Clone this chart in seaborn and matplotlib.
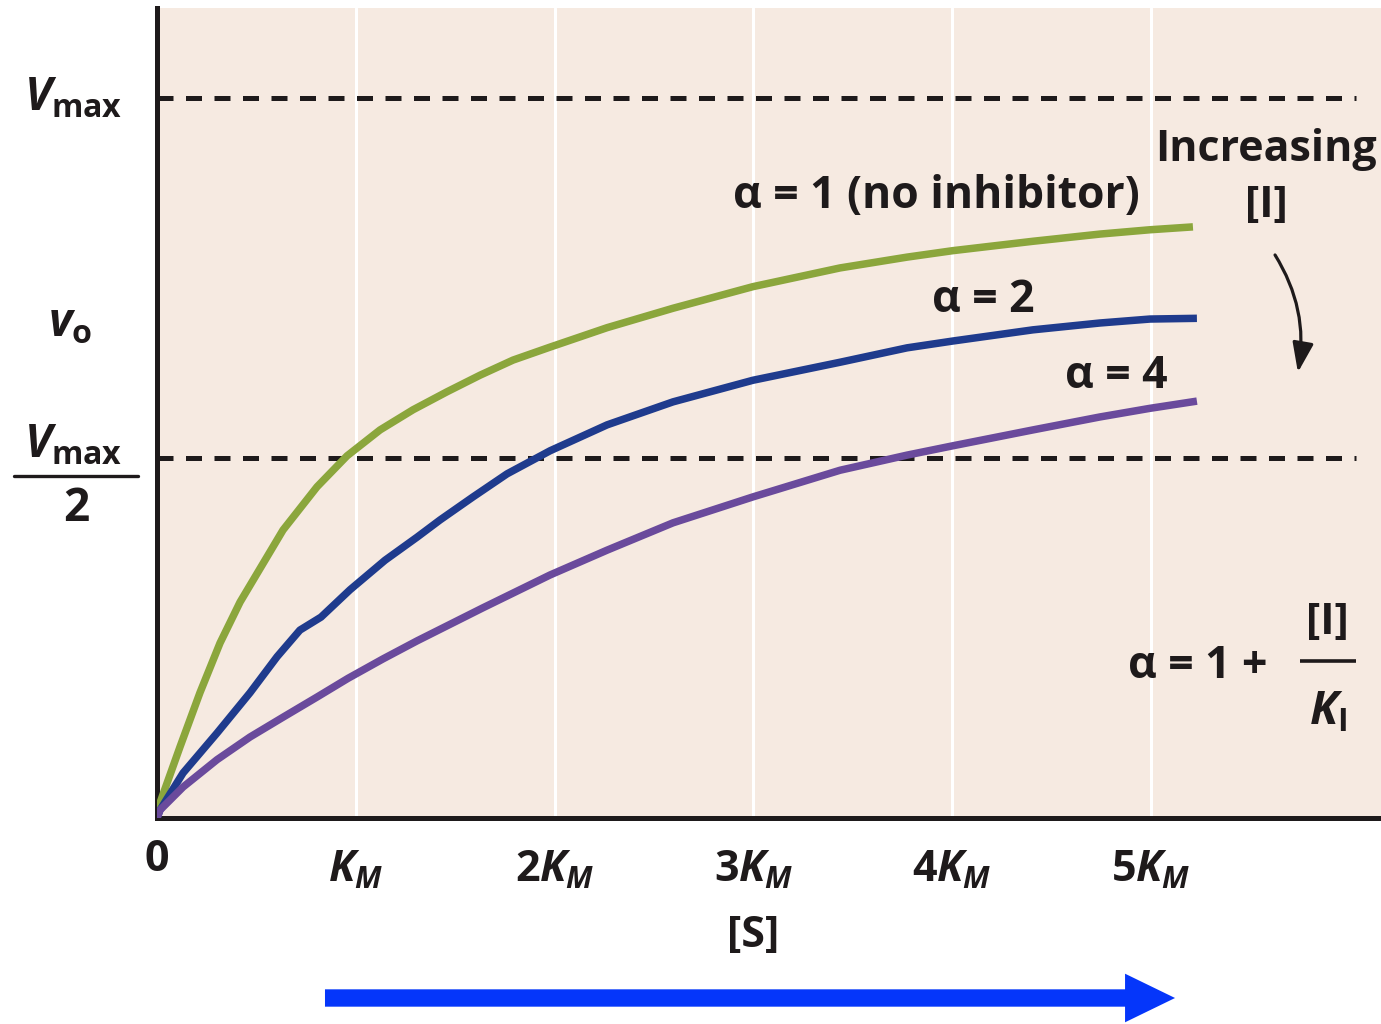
import numpy as np
import pandas as pd
import matplotlib
matplotlib.use("Agg")
import matplotlib.pyplot as plt
import seaborn as sns
from matplotlib.lines import Line2D

# ---------------- data ----------------
# substrate concentration in units of K_M, velocity in units of Vmax
s_alpha1 = [0, 0.015, 0.116, 0.216, 0.317, 0.418, 0.634, 0.805, 0.956, 1.122, 1.288, 1.459, 1.625,
            1.791, 1.977, 2.264, 2.596, 2.998, 3.436, 3.773, 4.004, 4.406, 4.743, 4.995, 5.211]
v_alpha1 = [0, 0.021, 0.099, 0.174, 0.243, 0.300, 0.400, 0.460, 0.503, 0.539, 0.567, 0.592, 0.615,
            0.636, 0.654, 0.681, 0.708, 0.738, 0.764, 0.779, 0.788, 0.801, 0.811, 0.817, 0.821]

s_alpha2 = [0, 0.015, 0.131, 0.302, 0.468, 0.604, 0.719, 0.825, 0.971, 1.147, 1.308, 1.424, 1.590,
            1.761, 1.977, 2.264, 2.596, 2.998, 3.436, 3.773, 4.004, 4.406, 4.743, 4.995, 5.231]
v_alpha2 = [0, 0.011, 0.0625, 0.118, 0.174, 0.224, 0.261, 0.279, 0.317, 0.358, 0.390, 0.414, 0.446,
            0.478, 0.510, 0.546, 0.578, 0.608, 0.633, 0.653, 0.6625, 0.678, 0.6875, 0.693, 0.694]

s_alpha4 = [0, 0.015, 0.131, 0.302, 0.468, 0.634, 0.805, 0.961, 1.137, 1.308, 1.640, 1.977,
            2.264, 2.596, 2.998, 3.436, 3.773, 4.004, 4.406, 4.743, 4.995, 5.231]
v_alpha4 = [0, 0.011, 0.043, 0.081, 0.1125, 0.140, 0.168, 0.194, 0.221, 0.246, 0.292, 0.3375,
            0.372, 0.410, 0.446, 0.483, 0.504, 0.517, 0.539, 0.557, 0.569, 0.579]

series_names = ["1", "2", "4"]
series_colors = ["#8BA63C", "#1F3B8D", "#6A4A9C"]
vmax_level = 1.0
half_vmax_level = 0.5

x_tick_values = [1, 2, 3, 4, 5]
x_tick_labels = [r"$K_M$", r"$2K_M$", r"$3K_M$", r"$4K_M$", r"$5K_M$"]

# ---------------- styling ----------------
sns.set_style("white")
plt.rcParams["font.family"] = ["Open Sans", "DejaVu Sans"]
plt.rcParams["font.weight"] = "bold"
plt.rcParams["mathtext.fontset"] = "custom"
plt.rcParams["mathtext.rm"] = "Open Sans:bold"
plt.rcParams["mathtext.bf"] = "Open Sans:bold"
plt.rcParams["mathtext.it"] = "Open Sans:italic:bold"
plt.rcParams["mathtext.sf"] = "Open Sans:bold"

INK = "#1E1A1B"
BG = "#F6EAE1"
FS = 31

df = pd.concat([
    pd.DataFrame({"S": s_alpha1, "v": v_alpha1, "alpha": "1"}),
    pd.DataFrame({"S": s_alpha2, "v": v_alpha2, "alpha": "2"}),
    pd.DataFrame({"S": s_alpha4, "v": v_alpha4, "alpha": "4"}),
], ignore_index=True)

W, H = 1381, 1024
fig = plt.figure(figsize=(W / 100, H / 100), dpi=100)
fig.patch.set_facecolor("white")
ax = fig.add_axes([157 / W, (H - 818) / H, (W - 157) / W, 810 / H])
ax.set_facecolor(BG)

# reference levels
ax.hlines([vmax_level, half_vmax_level], 0, 6.03, colors=INK, lw=3.6,
          linestyles=(0, (3.2, 2.5)), zorder=2)

sns.lineplot(data=df, x="S", y="v", hue="alpha", hue_order=series_names,
             palette=dict(zip(series_names, series_colors)), sort=False,
             estimator=None, legend=False, lw=5.4, ax=ax, zorder=3,
             solid_capstyle="butt", solid_joinstyle="round")

ax.set_xlim(0, 6.157)
ax.set_ylim(0, 1.125)

# axes, ticks, grid
for side in ["top", "right"]:
    ax.spines[side].set_visible(False)
for side in ["left", "bottom"]:
    ax.spines[side].set_color(INK)
    ax.spines[side].set_linewidth(3.6)
ax.set_xticks(x_tick_values)
ax.set_xticklabels(x_tick_labels, fontsize=FS)
ax.set_yticks([])
ax.tick_params(axis="x", direction="in", length=16, width=3, color=INK,
               pad=22, labelcolor=INK)
ax.grid(axis="x", color="white", lw=2.2, zorder=0)
ax.set_axisbelow(True)

ax.text(0, -0.057, "0", ha="center", va="center", fontsize=FS, color=INK)
ax.set_xlabel("[S]", fontsize=FS, color=INK, fontweight="bold")
ax.xaxis.set_label_coords((753 - 157) / 1224, -0.118)

# y-side labels
ax.set_ylabel(r"$v_{\mathrm{o}}$", fontsize=FS + 2, color=INK, rotation=0,
              ha="center", va="center")
ax.yaxis.set_label_coords(-0.071, 0.61)
ax.text(-0.4225, 1.0, r"$V_{\mathrm{max}}$", ha="center", va="center",
        fontsize=FS + 2, color=INK)
ax.text(-0.4225, 0.518, r"$V_{\mathrm{max}}$", ha="center", va="center",
        fontsize=FS + 2, color=INK)
ax.text(-0.407, 0.430, "2", ha="center", va="center", fontsize=FS + 2, color=INK)
fig.add_artist(Line2D([14 / W, 138 / W], [(H - 476) / H, (H - 476) / H],
                      transform=fig.transFigure, color=INK, lw=2.4))

# curve labels
ax.text(3.918, 0.863, "α = 1 (no inhibitor)", ha="center", va="center",
        fontsize=FS + 1, color=INK)
ax.text(4.155, 0.719, "α = 2", ha="center", va="center", fontsize=FS + 1, color=INK)
ax.text(4.824, 0.6125, "α = 4", ha="center", va="center", fontsize=FS + 1, color=INK)

# increasing [I]
ax.text(5.578, 0.928, "Increasing", ha="center", va="center", fontsize=FS, color=INK)
ax.text(5.578, 0.851, "[I]", ha="center", va="center", fontsize=FS, color=INK)
ax.annotate("", xy=(5.739, 0.619), xytext=(5.624, 0.782),
            arrowprops=dict(arrowstyle="-|>,head_length=0.9,head_width=0.32",
                            connectionstyle="arc3,rad=-0.19", lw=2.3,
                            color=INK, mutation_scale=20, shrinkA=0, shrinkB=0))

# alpha definition
ax.text(5.236, 0.210, "α = 1 +", ha="center", va="center", fontsize=FS + 1, color=INK)
ax.text(5.885, 0.272, "[I]", ha="center", va="center", fontsize=FS, color=INK)
ax.text(5.89, 0.147, r"$K_{\mathrm{I}}$", ha="center", va="center", fontsize=FS + 2,
        color=INK)
ax.plot([5.749, 6.031], [0.218, 0.218], color=INK, lw=2.6, clip_on=False,
        solid_capstyle="butt")

# big blue arrow below the axis
ax.annotate("", xy=(5.121, -0.25), xytext=(0.845, -0.25), annotation_clip=False,
            arrowprops=dict(arrowstyle="simple,head_length=36,head_width=35,tail_width=12.5",
                            mutation_scale=1, color="#0536FA", lw=0,
                            shrinkA=0, shrinkB=0))

fig.savefig("out.png", dpi=100, facecolor="white")
